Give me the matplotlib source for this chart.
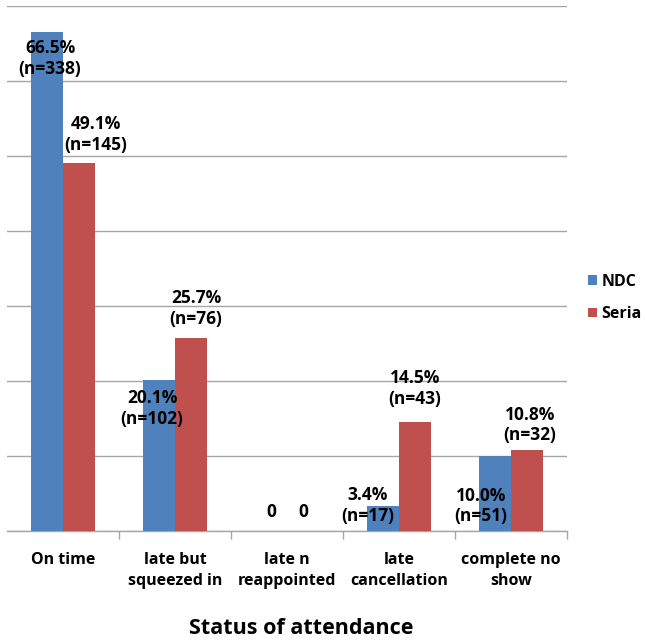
import matplotlib
matplotlib.use("Agg")
import matplotlib.pyplot as plt
import numpy as np
from matplotlib.ticker import FixedLocator, MultipleLocator

categories = ["On time", "late but\nsqueezed in", "late n\nreappointed",
              "late\ncancellation", "complete no\nshow"]
series_names = ["NDC", "Seria"]
ndc_pct = [66.5, 20.1, 0.0, 3.4, 10.0]
ndc_n = [338, 102, 0, 17, 51]
seria_pct = [49.1, 25.7, 0.0, 14.5, 10.8]
seria_n = [145, 76, 0, 43, 32]
x_title = "Status of attendance"

colors = ["#4F81BD", "#C0504D"]
# label placement (pixel offsets of text centre from bar top)
ndc_label_offsets = [(3, -26), (-7, -28), (0, 19), (-15, 0), (-14, -50)]
seria_label_offsets = [(17, 28), (5, 30), (0, 19), (0, 34), (3, 25)]

plt.rcParams["font.family"] = ["Open Sans", "DejaVu Sans"]
plt.rcParams["font.weight"] = "bold"

fig = plt.figure(figsize=(6.45, 6.41), dpi=100)
ax = fig.add_axes([7 / 645, 110 / 641, 560 / 645, 525 / 641])

x = np.arange(len(categories))
width = 0.2857
series = [(ndc_pct, ndc_n, ndc_label_offsets), (seria_pct, seria_n, seria_label_offsets)]
for i, (pct, ns, offs) in enumerate(series):
    xs = x + (i - 0.5) * width
    ax.bar(xs, pct, width=width, color=colors[i], label=series_names[i], zorder=3)
    for xi, v, n, (dx, dy) in zip(xs, pct, ns, offs):
        txt = "0" if v == 0 else f"{v:.1f}%\n(n={n})"
        ax.annotate(txt, (xi, v), xytext=(dx, dy), textcoords="offset pixels",
                    ha="center", va="center", fontsize=12.5, fontweight="bold",
                    linespacing=1.2, zorder=5, color="black")

ax.set_xlim(-0.5, len(categories) - 0.5)
ax.set_ylim(0, 70)
ax.yaxis.set_major_locator(MultipleLocator(10))
ax.yaxis.grid(True, color="#A6A6A6", linewidth=1.0, zorder=0)
ax.set_yticklabels([])
ax.tick_params(axis="y", length=0)

ax.set_xticks(x)
ax.set_xticklabels(categories, fontsize=11.5, fontweight="bold", linespacing=1.45)
ax.tick_params(axis="x", which="major", length=0, pad=15)
ax.xaxis.set_minor_locator(FixedLocator(np.arange(0.5, len(categories), 1.0)))
ax.tick_params(axis="x", which="minor", length=6, color="#A6A6A6", width=1)

for s in ["top", "right", "left"]:
    ax.spines[s].set_visible(False)
ax.spines["bottom"].set_color("#A6A6A6")
ax.spines["bottom"].set_linewidth(1.0)

fig.text(301 / 645, 1 - 628 / 641, x_title, fontsize=15.5, fontweight="bold",
         ha="center", va="center")

leg = ax.legend(loc="center left", bbox_to_anchor=(1.012, 0.444), frameon=False,
                handlelength=0.55, handleheight=0.55, handletextpad=0.3,
                labelspacing=1.05, prop={"size": 11.5, "weight": "bold"})

fig.savefig("out.png", dpi=100, facecolor="white")
